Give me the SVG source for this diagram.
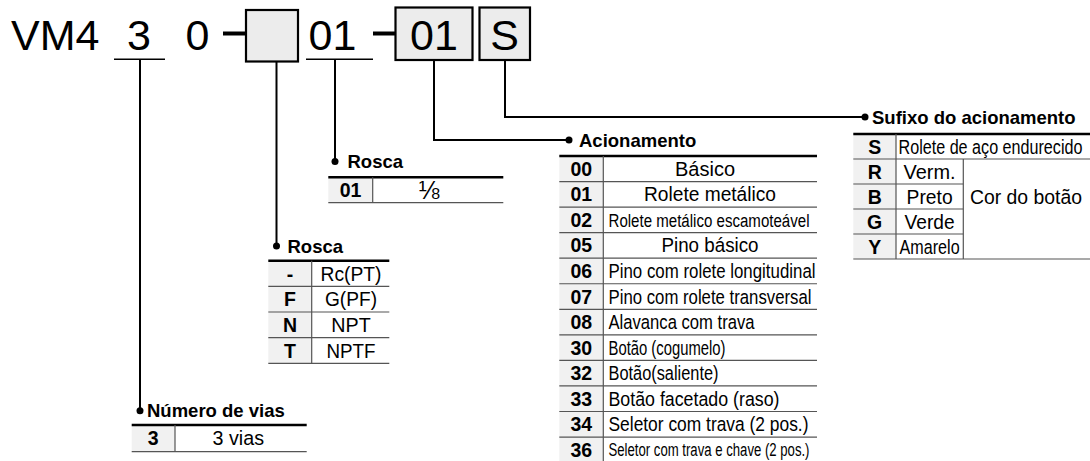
<svg xmlns="http://www.w3.org/2000/svg" width="1090" height="461" viewBox="0 0 1090 461">
<style>
text{font-family:"Liberation Sans",Arial,Helvetica,sans-serif;fill:#000}
.big{font-size:43px}
.hd{font-size:18.5px;font-weight:bold}
.cd{font-size:19.5px;font-weight:bold;text-anchor:middle}
.tx{font-size:19.7px}
.sm{font-size:18px}
.mid{text-anchor:middle}
.box{fill:#ececec;stroke:#000;stroke-width:2.2}
.ul{stroke:#000;stroke-width:1.6}
.dash{stroke:#000;stroke-width:4}
.conn{fill:none;stroke:#000;stroke-width:2}
.dot{fill:#000}
.top{stroke:#000;stroke-width:2.6}
.rl{stroke:#555;stroke-width:1.2}
.cf{fill:#f1f1f1}
</style>

<g id="part-number">
<text class="big" x="11" y="50">VM4</text>
<text class="big mid" x="139" y="50">3</text>
<line class="ul" x1="114" y1="59.3" x2="165" y2="59.3"/>
<text class="big mid" x="197.5" y="50">0</text>
<line class="dash" x1="223" y1="33.5" x2="246" y2="33.5"/>
<rect class="box" x="246" y="10" width="52" height="51.5"/>
<text class="big mid" x="332.5" y="50">01</text>
<line class="ul" x1="306" y1="59.3" x2="373" y2="59.3"/>
<line class="dash" x1="373" y1="33.5" x2="395.5" y2="33.5"/>
<rect class="box" x="395.5" y="7.5" width="77" height="52.5"/>
<text class="big mid" x="434" y="50">01</text>
<rect class="box" x="479.5" y="7.5" width="50.5" height="52.5"/>
<text class="big mid" x="504.5" y="50">S</text>
</g>

<g id="connectors">
<path class="conn" d="M140 59.3V410.7"/>
<circle class="dot" cx="140" cy="410.7" r="3.5"/>
<path class="conn" d="M276.5 61.7V246"/>
<circle class="dot" cx="276.5" cy="246" r="3.5"/>
<path class="conn" d="M335 59.3V161.5"/>
<circle class="dot" cx="335" cy="161.5" r="3.5"/>
<path class="conn" d="M434 60V140H569"/>
<circle class="dot" cx="569" cy="140" r="3.5"/>
<path class="conn" d="M505 60V117H865"/>
<circle class="dot" cx="865" cy="117" r="3.5"/>
</g>

<g id="numero-de-vias">
<text class="hd" x="147" y="417">Número de vias</text>
<rect class="cf" x="131.7" y="425" width="43.3" height="26.7"/>
<line class="top" x1="131.7" y1="425" x2="306.7" y2="425"/>
<line class="rl" x1="131.7" y1="451.7" x2="306.7" y2="451.7"/>
<line class="rl" x1="175" y1="425" x2="175" y2="451.7"/>
<text class="cd" x="153.3" y="445.3">3</text>
<text class="tx mid" x="238.3" y="445.3">3 vias</text>
</g>

<g id="rosca-conexao">
<text class="hd" x="287.5" y="252.5">Rosca</text>
<rect class="cf" x="268.3" y="260.7" width="43.4" height="102.6"/>
<line class="top" x1="268.3" y1="260.7" x2="389.3" y2="260.7"/>
<line class="rl" x1="268.3" y1="286.3" x2="389.3" y2="286.3"/>
<line class="rl" x1="268.3" y1="312" x2="389.3" y2="312"/>
<line class="rl" x1="268.3" y1="337.6" x2="389.3" y2="337.6"/>
<line class="rl" x1="268.3" y1="363.3" x2="389.3" y2="363.3"/>
<line class="rl" x1="311.7" y1="260.7" x2="311.7" y2="363.3"/>
<text class="cd" x="290" y="280.5">-</text>
<text class="cd" x="290" y="306.2">F</text>
<text class="cd" x="290" y="331.8">N</text>
<text class="cd" x="290" y="357.5">T</text>
<text class="tx mid" x="351" y="280.5" textLength="61" lengthAdjust="spacingAndGlyphs">Rc(PT)</text>
<text class="tx mid" x="351" y="306.2" textLength="52" lengthAdjust="spacingAndGlyphs">G(PF)</text>
<text class="tx mid" x="351" y="331.8">NPT</text>
<text class="tx mid" x="351" y="357.5" textLength="49" lengthAdjust="spacingAndGlyphs">NPTF</text>
</g>

<g id="rosca-tamanho">
<text class="hd" x="347.5" y="168">Rosca</text>
<rect class="cf" x="328.3" y="177.3" width="44.4" height="25.4"/>
<line class="top" x1="328.3" y1="177.3" x2="503.3" y2="177.3"/>
<line class="rl" x1="328.3" y1="202.7" x2="503.3" y2="202.7"/>
<line class="rl" x1="372.7" y1="177.3" x2="372.7" y2="202.7"/>
<text class="cd" x="350.5" y="197">01</text>
<text class="mid" x="429" y="199" font-size="25">⅛</text>
</g>

<g id="acionamento">
<text class="hd" x="579" y="146.5">Acionamento</text>
<rect class="cf" x="559.3" y="156" width="44" height="306"/>
<line class="top" x1="559.3" y1="156" x2="817" y2="156"/>
<line class="rl" x1="559.3" y1="181.55" x2="817" y2="181.55"/>
<line class="rl" x1="559.3" y1="207.1" x2="817" y2="207.1"/>
<line class="rl" x1="559.3" y1="232.65" x2="817" y2="232.65"/>
<line class="rl" x1="559.3" y1="258.2" x2="817" y2="258.2"/>
<line class="rl" x1="559.3" y1="283.75" x2="817" y2="283.75"/>
<line class="rl" x1="559.3" y1="309.3" x2="817" y2="309.3"/>
<line class="rl" x1="559.3" y1="334.85" x2="817" y2="334.85"/>
<line class="rl" x1="559.3" y1="360.4" x2="817" y2="360.4"/>
<line class="rl" x1="559.3" y1="385.95" x2="817" y2="385.95"/>
<line class="rl" x1="559.3" y1="411.5" x2="817" y2="411.5"/>
<line class="rl" x1="559.3" y1="437.05" x2="817" y2="437.05"/>
<line class="rl" x1="603.3" y1="156" x2="603.3" y2="462"/>
<text class="cd" x="581.3" y="175.8">00</text>
<text class="cd" x="581.3" y="201.3">01</text>
<text class="cd" x="581.3" y="226.9">02</text>
<text class="cd" x="581.3" y="252.4">05</text>
<text class="cd" x="581.3" y="278">06</text>
<text class="cd" x="581.3" y="303.5">07</text>
<text class="cd" x="581.3" y="329.1">08</text>
<text class="cd" x="581.3" y="354.6">30</text>
<text class="cd" x="581.3" y="380.2">32</text>
<text class="cd" x="581.3" y="405.7">33</text>
<text class="cd" x="581.3" y="431.3">34</text>
<text class="cd" x="581.3" y="456.8">36</text>
<text class="tx mid" x="705" y="175.8" textLength="60" lengthAdjust="spacingAndGlyphs">Básico</text>
<text class="tx mid" x="710" y="201.3" textLength="132" lengthAdjust="spacingAndGlyphs">Rolete metálico</text>
<text class="sm" x="608.5" y="226.9" textLength="201" lengthAdjust="spacingAndGlyphs">Rolete metálico escamoteável</text>
<text class="tx mid" x="710" y="252.4" textLength="97" lengthAdjust="spacingAndGlyphs">Pino básico</text>
<text class="tx" x="608.5" y="278" textLength="207" lengthAdjust="spacingAndGlyphs">Pino com rolete longitudinal</text>
<text class="tx" x="608.5" y="303.5" textLength="203" lengthAdjust="spacingAndGlyphs">Pino com rolete transversal</text>
<text class="tx" x="608.5" y="329.1" textLength="146" lengthAdjust="spacingAndGlyphs">Alavanca com trava</text>
<text class="tx" x="608.5" y="354.6" textLength="117" lengthAdjust="spacingAndGlyphs">Botão (cogumelo)</text>
<text class="tx" x="608.5" y="380.2" textLength="110" lengthAdjust="spacingAndGlyphs">Botão(saliente)</text>
<text class="tx" x="608.5" y="405.7" textLength="171" lengthAdjust="spacingAndGlyphs">Botão facetado (raso)</text>
<text class="tx" x="608.5" y="431.3" textLength="200" lengthAdjust="spacingAndGlyphs">Seletor com trava (2 pos.)</text>
<text class="sm" x="608.5" y="456.3" textLength="201" lengthAdjust="spacingAndGlyphs">Seletor com trava e chave (2 pos.)</text>
</g>

<g id="sufixo">
<text class="hd" x="872" y="123.5">Sufixo do acionamento</text>
<rect class="cf" x="853.3" y="134" width="42.7" height="125"/>
<line class="top" x1="853.3" y1="134" x2="1090" y2="134"/>
<line class="rl" x1="853.3" y1="159" x2="1090" y2="159"/>
<line class="rl" x1="853.3" y1="184" x2="963.3" y2="184"/>
<line class="rl" x1="853.3" y1="209" x2="963.3" y2="209"/>
<line class="rl" x1="853.3" y1="234" x2="963.3" y2="234"/>
<line class="rl" x1="853.3" y1="259" x2="1090" y2="259"/>
<line class="rl" x1="896" y1="134" x2="896" y2="259"/>
<line class="rl" x1="963.3" y1="159" x2="963.3" y2="259"/>
<text class="cd" x="874.7" y="153.5">S</text>
<text class="cd" x="874.7" y="178.5">R</text>
<text class="cd" x="874.7" y="203.5">B</text>
<text class="cd" x="874.7" y="228.5">G</text>
<text class="cd" x="874.7" y="253.5">Y</text>
<text class="tx" x="0" y="0" transform="translate(898.5 153.5) scale(0.82 1)">Rolete de aço endurecido</text>
<text class="tx mid" x="929.6" y="178.5" textLength="52" lengthAdjust="spacingAndGlyphs">Verm.</text>
<text class="tx mid" x="929.6" y="203.5" textLength="46" lengthAdjust="spacingAndGlyphs">Preto</text>
<text class="tx mid" x="929.6" y="228.5" textLength="50" lengthAdjust="spacingAndGlyphs">Verde</text>
<text class="tx mid" x="929.6" y="253.5" textLength="60" lengthAdjust="spacingAndGlyphs">Amarelo</text>
<text class="tx" x="970" y="203.5" textLength="112" lengthAdjust="spacingAndGlyphs">Cor do botão</text>
</g>
</svg>
